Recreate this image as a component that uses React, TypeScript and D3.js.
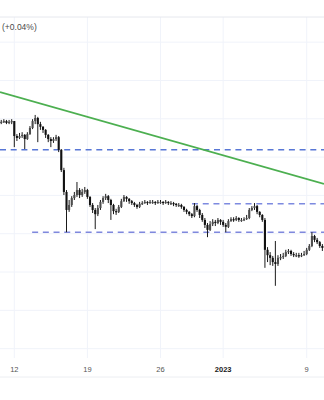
import React from "react";
import * as d3 from "d3";

const WIDTH = 324;
const HEIGHT = 400;

// 6-hour bars
const barStart = Date.UTC(2022, 11, 10, 18);
const barStepMs = 6 * 3600 * 1000;

const opens = [
  1.2289, 1.2292, 1.2294, 1.2289, 1.2292,
  1.2294, 1.2255, 1.2250, 1.2255, 1.2258,
  1.2247, 1.2260, 1.2276, 1.2294, 1.2302,
  1.2286, 1.2279, 1.2271, 1.2258, 1.2247,
  1.2242, 1.2247, 1.2252, 1.2219, 1.2166,
  1.2109, 1.2062, 1.2075, 1.2093, 1.2101,
  1.2114, 1.2101, 1.2109, 1.2114, 1.2096,
  1.2075, 1.2062, 1.2051, 1.2067, 1.2083,
  1.2093, 1.2098, 1.2088, 1.2075, 1.2059,
  1.2057, 1.2070, 1.2085, 1.2096, 1.2091,
  1.2085, 1.2080, 1.2075, 1.2070, 1.2078,
  1.2080, 1.2083, 1.2080, 1.2083, 1.2083,
  1.2080, 1.2083, 1.2083, 1.2080, 1.2083,
  1.2080, 1.2080, 1.2078, 1.2075, 1.2075,
  1.2070, 1.2062, 1.2057, 1.2051, 1.2046,
  1.2072, 1.2062, 1.2049, 1.2036, 1.2023,
  1.2010, 1.2025, 1.2031, 1.2028, 1.2036,
  1.2031, 1.2023, 1.2018, 1.2033, 1.2038,
  1.2036, 1.2041, 1.2036, 1.2036, 1.2038,
  1.2041, 1.2062, 1.2067, 1.2072, 1.2057,
  1.2049, 1.2036, 1.1958, 1.1944, 1.1937,
  1.1926, 1.1921, 1.1937, 1.1939, 1.1942,
  1.1952, 1.1955, 1.1947, 1.1944, 1.1944,
  1.1942, 1.1944, 1.1947, 1.1958, 1.1968,
  1.1994, 1.1984, 1.1978, 1.1968,
];

const highs = [
  1.2297, 1.2299, 1.2297, 1.2297, 1.2299,
  1.2294, 1.2260, 1.2263, 1.2265, 1.2260,
  1.2265, 1.2281, 1.2299, 1.2310, 1.2305,
  1.2292, 1.2281, 1.2273, 1.2260, 1.2252,
  1.2252, 1.2258, 1.2255, 1.2221, 1.2172,
  1.2114, 1.2088, 1.2098, 1.2109, 1.2135,
  1.2119, 1.2117, 1.2122, 1.2117, 1.2098,
  1.2080, 1.2067, 1.2075, 1.2088, 1.2098,
  1.2104, 1.2101, 1.2091, 1.2078, 1.2065,
  1.2075, 1.2091, 1.2101, 1.2098, 1.2093,
  1.2088, 1.2083, 1.2078, 1.2083, 1.2085,
  1.2088, 1.2085, 1.2088, 1.2088, 1.2085,
  1.2088, 1.2088, 1.2085, 1.2088, 1.2085,
  1.2085, 1.2083, 1.2080, 1.2080, 1.2078,
  1.2072, 1.2065, 1.2059, 1.2054, 1.2080,
  1.2075, 1.2065, 1.2054, 1.2041, 1.2028,
  1.2033, 1.2038, 1.2036, 1.2041, 1.2038,
  1.2036, 1.2028, 1.2038, 1.2043, 1.2043,
  1.2046, 1.2043, 1.2041, 1.2043, 1.2049,
  1.2067, 1.2072, 1.2080, 1.2075, 1.2059,
  1.2051, 1.2041, 1.1965, 1.1952, 1.1942,
  1.1981, 1.1944, 1.1947, 1.1950, 1.1958,
  1.1960, 1.1958, 1.1952, 1.1950, 1.1950,
  1.1950, 1.1955, 1.1963, 1.1973, 1.2004,
  1.1997, 1.1989, 1.1981, 1.1973,
];

const lows = [
  1.2286, 1.2289, 1.2286, 1.2286, 1.2286,
  1.2226, 1.2242, 1.2247, 1.2250, 1.2221,
  1.2245, 1.2258, 1.2273, 1.2286, 1.2239,
  1.2271, 1.2263, 1.2250, 1.2239, 1.2226,
  1.2237, 1.2242, 1.2213, 1.2161, 1.2101,
  1.2004, 1.2057, 1.2070, 1.2088, 1.2096,
  1.2093, 1.2096, 1.2104, 1.2091, 1.2070,
  1.2054, 1.2012, 1.2046, 1.2062, 1.2078,
  1.2088, 1.2080, 1.2036, 1.2051, 1.2049,
  1.2054, 1.2067, 1.2083, 1.2083, 1.2078,
  1.2075, 1.2070, 1.2065, 1.2067, 1.2075,
  1.2078, 1.2075, 1.2078, 1.2078, 1.2075,
  1.2078, 1.2078, 1.2075, 1.2078, 1.2075,
  1.2075, 1.2072, 1.2070, 1.2070, 1.2065,
  1.2057, 1.2051, 1.2046, 1.2041, 1.2043,
  1.2057, 1.2041, 1.2031, 1.2015, 1.1991,
  1.2007, 1.2020, 1.2020, 1.2025, 1.2023,
  1.2018, 1.2004, 1.2015, 1.2031, 1.2031,
  1.2033, 1.2031, 1.2031, 1.2033, 1.2036,
  1.2038, 1.2059, 1.2062, 1.2051, 1.2043,
  1.2031, 1.1911, 1.1926, 1.1918, 1.1916,
  1.1864, 1.1916, 1.1931, 1.1934, 1.1939,
  1.1947, 1.1942, 1.1939, 1.1939, 1.1937,
  1.1939, 1.1942, 1.1944, 1.1955, 1.1965,
  1.1978, 1.1973, 1.1963, 1.1955,
];

const closes = [
  1.2292, 1.2294, 1.2289, 1.2292, 1.2294,
  1.2255, 1.2250, 1.2255, 1.2258, 1.2247,
  1.2260, 1.2276, 1.2294, 1.2302, 1.2286,
  1.2279, 1.2271, 1.2258, 1.2247, 1.2242,
  1.2247, 1.2252, 1.2219, 1.2166, 1.2109,
  1.2062, 1.2075, 1.2093, 1.2101, 1.2114,
  1.2101, 1.2109, 1.2114, 1.2096, 1.2075,
  1.2062, 1.2051, 1.2067, 1.2083, 1.2093,
  1.2098, 1.2088, 1.2075, 1.2059, 1.2057,
  1.2070, 1.2085, 1.2096, 1.2091, 1.2085,
  1.2080, 1.2075, 1.2070, 1.2078, 1.2080,
  1.2083, 1.2080, 1.2083, 1.2083, 1.2080,
  1.2083, 1.2083, 1.2080, 1.2083, 1.2080,
  1.2080, 1.2078, 1.2075, 1.2075, 1.2070,
  1.2062, 1.2057, 1.2051, 1.2046, 1.2072,
  1.2062, 1.2049, 1.2036, 1.2023, 1.2010,
  1.2025, 1.2031, 1.2028, 1.2036, 1.2031,
  1.2023, 1.2018, 1.2033, 1.2038, 1.2036,
  1.2041, 1.2036, 1.2036, 1.2038, 1.2041,
  1.2062, 1.2067, 1.2072, 1.2057, 1.2049,
  1.2036, 1.1958, 1.1944, 1.1937, 1.1926,
  1.1921, 1.1937, 1.1939, 1.1942, 1.1952,
  1.1955, 1.1947, 1.1944, 1.1944, 1.1942,
  1.1944, 1.1947, 1.1958, 1.1968, 1.1994,
  1.1984, 1.1978, 1.1968, 1.1963,
];

const tickDates = [
  Date.UTC(2022, 11, 12),
  Date.UTC(2022, 11, 19),
  Date.UTC(2022, 11, 26),
  Date.UTC(2023, 0, 1),
  Date.UTC(2023, 0, 9),
];
const tickLabels = ["12", "19", "26", "2023", "9"];
const tickIsYear = [false, false, false, true, false];

const gridPrices = [1.25, 1.24, 1.23, 1.22, 1.21, 1.2, 1.19, 1.18, 1.17];

// horizontal rays (dashed)
const levelPrices = [1.2219, 1.2078, 1.2004];
const levelStarts = [
  Date.UTC(2022, 11, 9),
  Date.UTC(2022, 11, 29, 0, 30),
  Date.UTC(2022, 11, 13, 17),
];

// trend line anchors
const trendTimes = [Date.UTC(2022, 11, 12), Date.UTC(2023, 0, 9)];
const trendPrices = [1.2359, 1.2143];

const changeLabel = "(+0.04%)";

const PANE_TOP = 17;
const PANE_BOTTOM = 358;
const AXIS_LINE = 377;
const FONT = "'Liberation Sans', Arial, sans-serif";

export default function App() {
  const x = d3
    .scaleUtc()
    .domain([tickDates[0], tickDates[4]])
    .range([14.3, 306.7]);
  const y = d3.scaleLinear().domain([1.261, 1.1566]).range([0, 400]);

  const bodyW = 2.1;

  const candles = closes.map((c, i) => {
    const t = barStart + i * barStepMs;
    const cx = x(t);
    const o = opens[i];
    const up = c >= o;
    const yTop = y(Math.max(o, c));
    const yBot = y(Math.min(o, c));
    const h = Math.max(1.2, yBot - yTop);
    return (
      <g key={i}>
        <line
          x1={cx}
          x2={cx}
          y1={y(highs[i])}
          y2={y(lows[i])}
          stroke="#1a1a1a"
          strokeWidth={1}
        />
        <rect
          x={cx - bodyW / 2}
          y={yTop}
          width={bodyW}
          height={h}
          fill={up ? "#4d4d4d" : "#111"}
        />
      </g>
    );
  });

  // trend line extended to chart edges
  const tLeft = x.invert(0).getTime();
  const tRight = x.invert(WIDTH).getTime();
  const trendAt = d3.scaleLinear().domain(trendTimes).range(trendPrices);

  const levelColors = ["#5877d6", "#7d8ae0", "#7f88dd"];

  return (
    <svg
      width={WIDTH}
      height={HEIGHT}
      style={{ position: "absolute", left: 0, top: 0, background: "#fff" }}
    >
      <rect x={0} y={0} width={WIDTH} height={HEIGHT} fill="#fff" />
      {gridPrices.map((p, i) => (
        <line
          key={"gh" + i}
          x1={0}
          x2={WIDTH}
          y1={y(p)}
          y2={y(p)}
          stroke="#f0f3fa"
          strokeWidth={1}
        />
      ))}
      {tickDates.map((t, i) => (
        <line
          key={"gv" + i}
          x1={x(t)}
          x2={x(t)}
          y1={PANE_TOP}
          y2={PANE_BOTTOM}
          stroke="#f0f3fa"
          strokeWidth={1}
        />
      ))}
      <line x1={0} x2={WIDTH} y1={PANE_TOP} y2={PANE_TOP} stroke="#e6e8ee" strokeWidth={1} />
      <line x1={0} x2={WIDTH} y1={AXIS_LINE} y2={AXIS_LINE} stroke="#eceef2" strokeWidth={1} />

      <text x={2} y={30} fontFamily={FONT} fontSize={8.5} fill="#4a4a4a">
        {changeLabel}
      </text>

      {levelPrices.map((p, i) => (
        <line
          key={"lv" + i}
          x1={Math.max(0, x(levelStarts[i]))}
          x2={WIDTH}
          y1={y(p)}
          y2={y(p)}
          stroke={levelColors[i]}
          strokeWidth={1.5}
          strokeDasharray="6 4.7"
        />
      ))}

      {candles}

      <line
        x1={0}
        x2={WIDTH}
        y1={y(trendAt(tLeft))}
        y2={y(trendAt(tRight))}
        stroke="#4caf50"
        strokeWidth={1.8}
      />

      {tickDates.map((t, i) => (
        <text
          key={"tl" + i}
          x={x(t)}
          y={371.5}
          textAnchor="middle"
          fontFamily={FONT}
          fontSize={7.5}
          fontWeight={tickIsYear[i] ? "bold" : "normal"}
          fill={tickIsYear[i] ? "#1a1a1a" : "#555"}
        >
          {tickLabels[i]}
        </text>
      ))}
    </svg>
  );
}
